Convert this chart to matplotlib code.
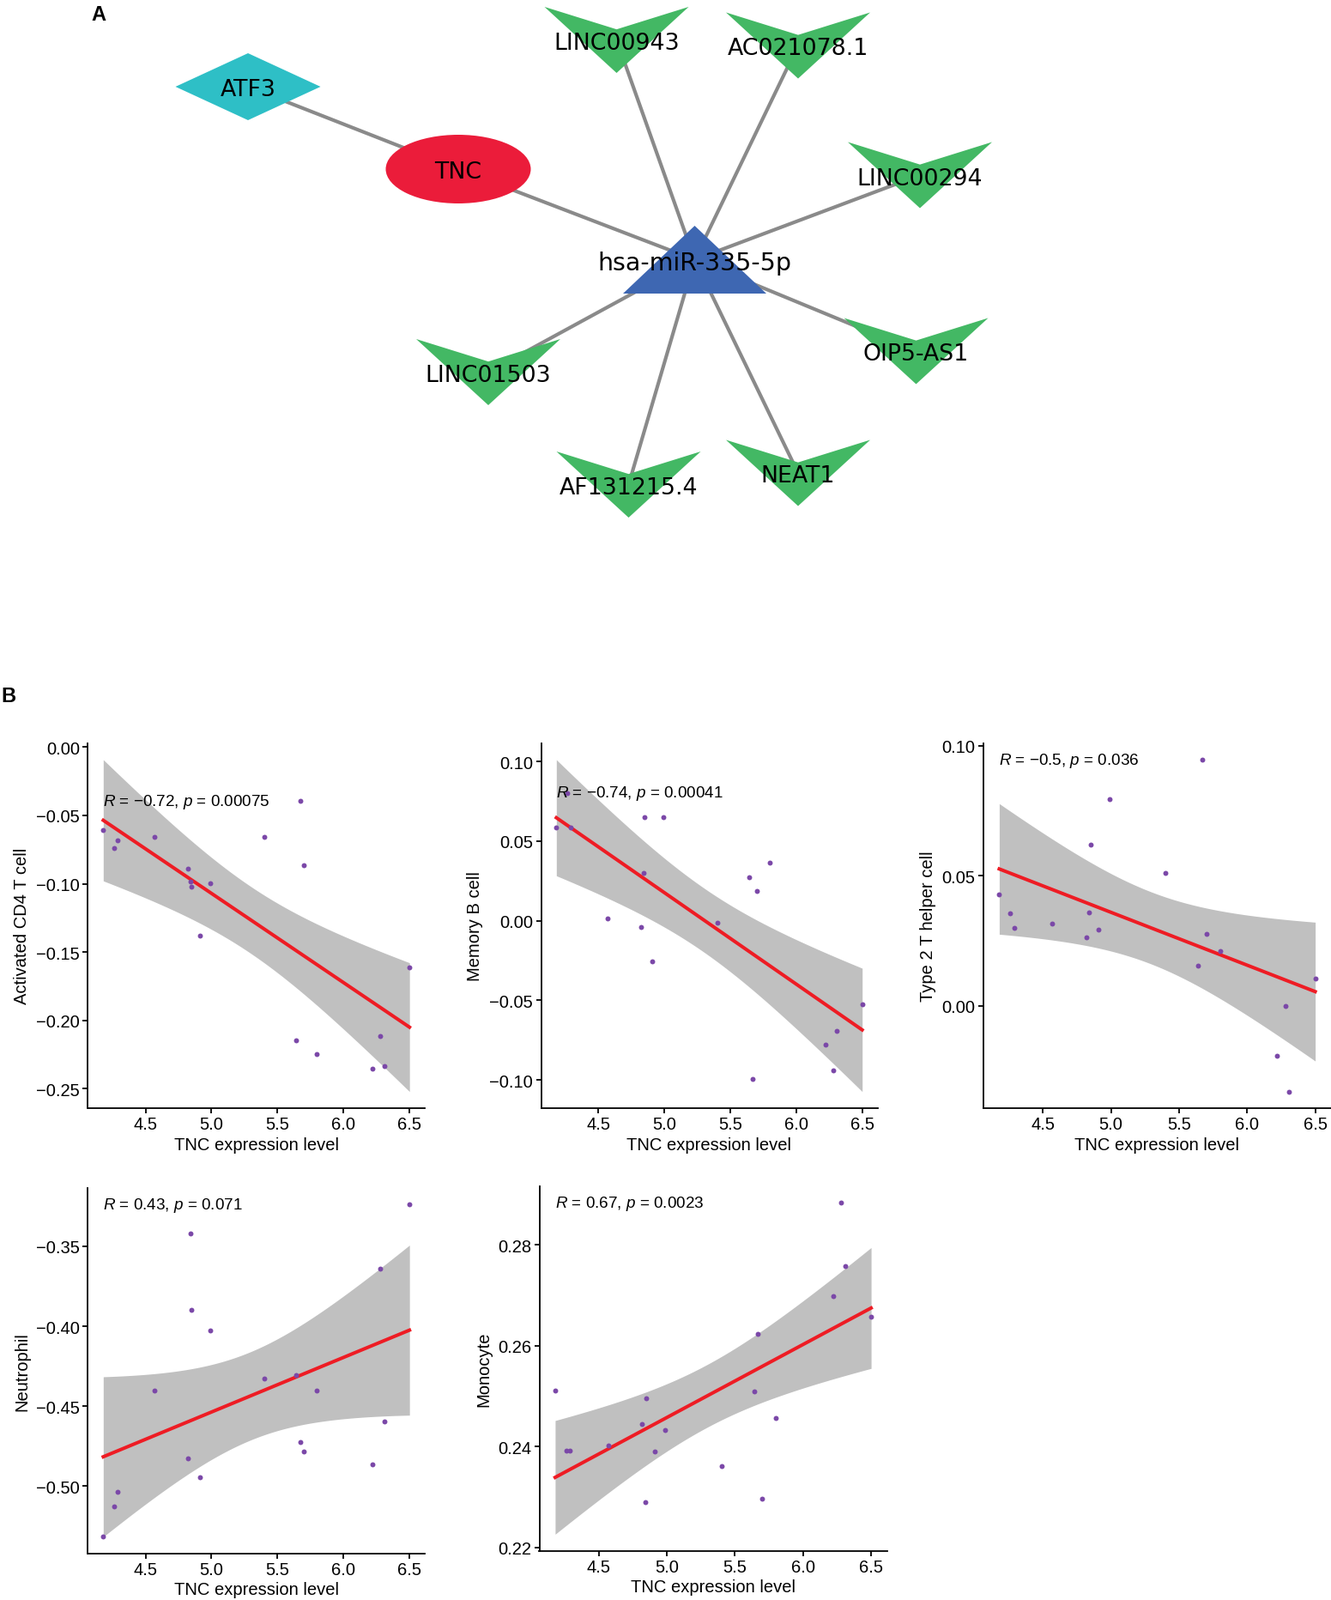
import numpy as np
import matplotlib.pyplot as plt
from matplotlib.patches import Polygon, Ellipse
from matplotlib.ticker import MultipleLocator, FuncFormatter

plt.rcParams['font.family'] = ['Liberation Sans', 'DejaVu Sans']
plt.rcParams['mathtext.fontset'] = 'custom'
plt.rcParams['mathtext.it'] = 'Liberation Sans:italic'
plt.rcParams['mathtext.rm'] = 'Liberation Sans'

#%% DATA

# network (panel A)
node_names = ['ATF3', 'TNC', 'hsa-miR-335-5p', 'LINC00943', 'AC021078.1', 'LINC00294',
              'OIP5-AS1', 'NEAT1', 'AF131215.4', 'LINC01503']
node_kind = ['tf', 'gene', 'mirna', 'lnc', 'lnc', 'lnc', 'lnc', 'lnc', 'lnc', 'lnc']
edges = [('ATF3', 'TNC'), ('TNC', 'hsa-miR-335-5p'),
         ('hsa-miR-335-5p', 'LINC00943'), ('hsa-miR-335-5p', 'AC021078.1'),
         ('hsa-miR-335-5p', 'LINC00294'), ('hsa-miR-335-5p', 'OIP5-AS1'),
         ('hsa-miR-335-5p', 'NEAT1'), ('hsa-miR-335-5p', 'AF131215.4'),
         ('hsa-miR-335-5p', 'LINC01503')]

# immune infiltration vs TNC (panel B)
tnc = np.array([4.18, 4.26, 4.29, 4.57, 4.82, 4.84, 4.85, 4.91, 4.99,
                5.40, 5.64, 5.67, 5.70, 5.80, 6.22, 6.28, 6.31, 6.50])
cd4_t = np.array([-0.0609, -0.0741, -0.0683, -0.0655, -0.0892, -0.0982, -0.1024, -0.1382, -0.0999,
                  -0.0657, -0.2146, -0.0394, -0.0863, -0.2247, -0.2353, -0.2117, -0.2335, -0.1610])
memory_b = np.array([0.0584, 0.0803, 0.0584, 0.0013, -0.0041, 0.0300, 0.0649, -0.0255, 0.0649,
                     -0.0013, 0.0271, -0.0996, 0.0189, 0.0365, -0.0778, -0.0942, -0.0690, -0.0525])
th2 = np.array([0.0427, 0.0356, 0.0298, 0.0315, 0.0262, 0.0360, 0.0620, 0.0292, 0.0796,
                0.0512, 0.0155, 0.0947, 0.0275, 0.0210, -0.0193, -0.0003, -0.0331, 0.0105])
neutrophil = np.array([-0.5313, -0.5127, -0.5034, -0.4401, -0.4826, -0.3420, -0.3899, -0.4943, -0.4024,
                       -0.4329, -0.4304, -0.4723, -0.4785, -0.4401, -0.4864, -0.3638, -0.4596, -0.3239])
monocyte = np.array([0.2511, 0.2393, 0.2393, 0.2402, 0.2445, 0.2290, 0.2496, 0.2390, 0.2433,
                     0.2362, 0.2510, 0.2623, 0.2297, 0.2457, 0.2698, 0.2884, 0.2758, 0.2657])

cell_labels = ['Activated CD4 T cell', 'Memory B cell', 'Type 2 T helper cell', 'Neutrophil', 'Monocyte']
r_text = ['\u22120.72', '\u22120.74', '\u22120.5', '0.43', '0.67']
p_text = ['0.00075', '0.00041', '0.036', '0.071', '0.0023']

#%% LAYOUT / STYLE

W, H = 1551, 1865
fig = plt.figure(figsize=(W / 100, H / 100), dpi=100)

node_pos = {'ATF3': (289, 102), 'TNC': (534, 198), 'hsa-miR-335-5p': (809.5, 303.5),
            'LINC00943': (718.5, 47.5), 'AC021078.1': (930, 54), 'LINC00294': (1072, 205),
            'OIP5-AS1': (1067.5, 410), 'NEAT1': (930, 552), 'AF131215.4': (732.5, 565.5),
            'LINC01503': (569, 434.5)}
node_col = {'tf': '#2EBFC6', 'gene': '#EB1C3A', 'mirna': '#3E67B2', 'lnc': '#43B864'}

NET_H = 660
ax_net = fig.add_axes([0, 1 - NET_H / H, 1, NET_H / H])
ax_net.set_xlim(0, W)
ax_net.set_ylim(NET_H, 0)
ax_net.axis('off')

for a, b in edges:
    (x0, y0), (x1, y1) = node_pos[a], node_pos[b]
    ax_net.plot([x0, x1], [y0, y1], color='#8A8A8A', lw=3, solid_capstyle='butt', zorder=1)

def node_patch(kind, cx, cy):
    if kind == 'tf':
        w, h = 169, 78
        return Polygon([(cx - w / 2, cy), (cx, cy - h / 2), (cx + w / 2, cy), (cx, cy + h / 2)])
    if kind == 'gene':
        return Ellipse((cx, cy), 169, 80)
    if kind == 'mirna':
        w, h = 167, 79
        return Polygon([(cx - w / 2, cy + h / 2), (cx, cy - h / 2), (cx + w / 2, cy + h / 2)])
    w, h = 168, 77
    return Polygon([(cx - w / 2, cy - h / 2), (cx, cy - h / 2 + 0.34 * h),
                    (cx + w / 2, cy - h / 2), (cx, cy + h / 2)])

for name, kind in zip(node_names, node_kind):
    cx, cy = node_pos[name]
    p = node_patch(kind, cx, cy)
    p.set_facecolor(node_col[kind])
    p.set_edgecolor('none')
    p.set_zorder(2)
    ax_net.add_patch(p)
    fs = 20.5 if kind == 'mirna' else 19.3
    ax_net.text(cx, cy + 3.5, name, ha='center', va='center', fontsize=fs,
                family='DejaVu Sans', color='black', zorder=3)

fig.text(115 / W, 1 - 17 / H, 'A', fontsize=17, fontweight='bold', ha='center', va='center')
fig.text(10 / W, 1 - 812 / H, 'B', fontsize=17, fontweight='bold', ha='center', va='center')

# axes boxes in pixels: left, top, right, bottom
boxes = [(102.5, 866.7, 495, 1292), (630.5, 866.7, 1022.5, 1292), (1146, 866.7, 1551, 1292),
         (102.5, 1385, 495, 1810.7), (628.5, 1382.7, 1033.5, 1807.7)]
ysteps = [0.05, 0.05, 0.05, 0.05, 0.02]
series = [cd4_t, memory_b, th2, neutrophil, monocyte]

T975 = 2.1199  # t quantile, df = 16

def fmt(v, pos):
    if abs(v) < 1e-9:
        v = 0.0
    return f'{v:.2f}'.replace('-', '\u2212')

for i, y in enumerate(series):
    l, t, r, b = boxes[i]
    ax = fig.add_axes([l / W, 1 - b / H, (r - l) / W, (b - t) / H])

    # linear fit with 95% CI (like geom_smooth(method='lm'))
    n = len(tnc)
    slope, icpt = np.polyfit(tnc, y, 1)
    resid = y - (slope * tnc + icpt)
    s = np.sqrt(np.sum(resid ** 2) / (n - 2))
    xg = np.linspace(tnc.min(), tnc.max(), 100)
    yg = slope * xg + icpt
    se = s * np.sqrt(1 / n + (xg - tnc.mean()) ** 2 / np.sum((tnc - tnc.mean()) ** 2))
    lo, hi = yg - T975 * se, yg + T975 * se

    ax.fill_between(xg, lo, hi, color='#C0C0C0', lw=0, zorder=1)
    ax.plot(xg, yg, color='#EE1C24', lw=2.9, zorder=2)
    ax.scatter(tnc, y, s=18, color='#7B48A8', lw=0, zorder=3)

    xr = tnc.max() - tnc.min()
    ax.set_xlim(tnc.min() - 0.05 * xr, tnc.max() + 0.05 * xr)
    ymin, ymax = min(y.min(), lo.min()), max(y.max(), hi.max())
    yr = ymax - ymin
    ax.set_ylim(ymin - 0.05 * yr, ymax + 0.05 * yr)

    ax.xaxis.set_major_locator(MultipleLocator(0.5))
    ax.xaxis.set_major_formatter(FuncFormatter(lambda v, p: f'{v:.1f}'))
    ax.yaxis.set_major_locator(MultipleLocator(ysteps[i]))
    ax.yaxis.set_major_formatter(FuncFormatter(fmt))

    for side in ['top', 'right']:
        ax.spines[side].set_visible(False)
    for side in ['left', 'bottom']:
        ax.spines[side].set_linewidth(1.3)
    ax.tick_params(direction='out', length=4.3, width=1.3, labelsize=14.5, pad=2.5, colors='black')

    ax.set_xlabel('TNC expression level', fontsize=14.5, labelpad=3)
    ax.set_ylabel(cell_labels[i], fontsize=14.5, labelpad=5)

    ax.text(tnc.min(), y.max(), r'$\it{R}$' + ' = ' + r_text[i] + ', ' + r'$\it{p}$' + ' = ' + p_text[i],
            ha='left', va='center', fontsize=13.6, zorder=4)

fig.savefig('out.png', dpi=100)
